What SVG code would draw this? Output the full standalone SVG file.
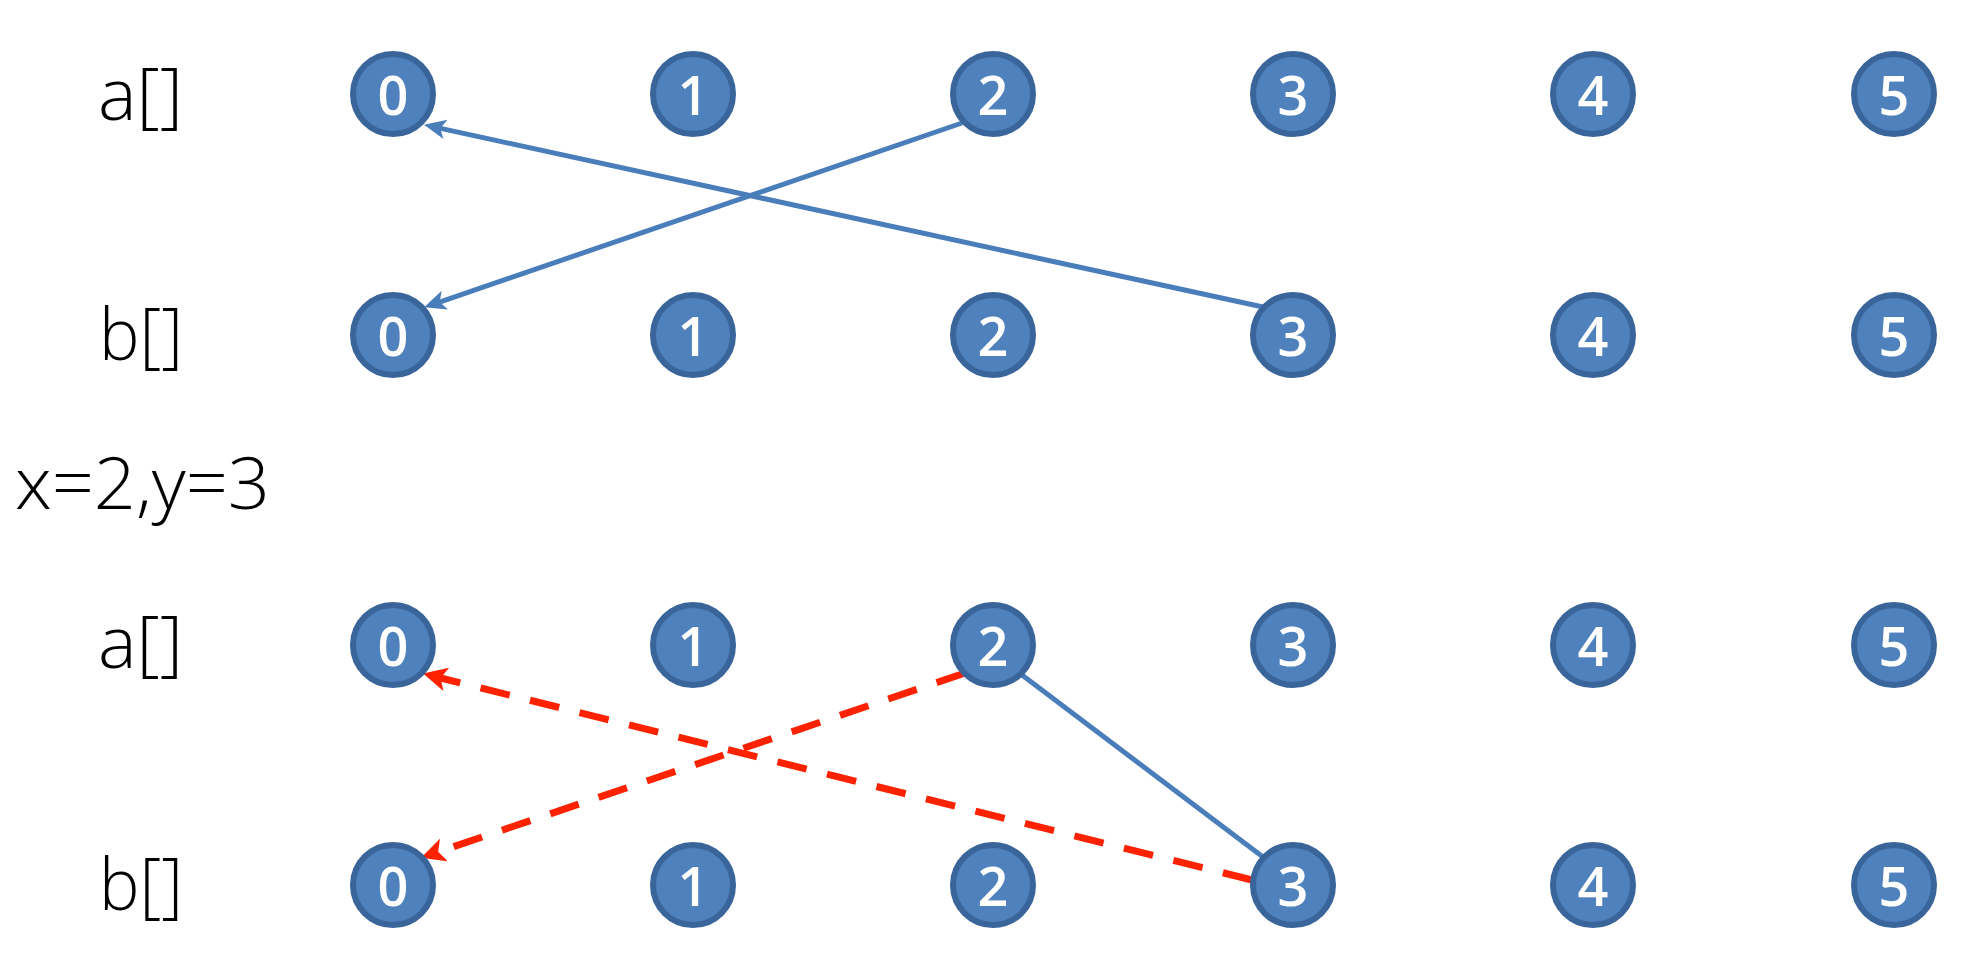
<svg xmlns="http://www.w3.org/2000/svg" width="1967" height="953" viewBox="0 0 1967 953">
<style>
.bg{fill:#ffffff}
.node circle{fill:#4F81BD;stroke:#3A659B;stroke-width:6}
.node text{fill:#ffffff;font-family:"Open Sans","Liberation Sans",sans-serif;font-size:54px;font-weight:600;text-anchor:middle}
.lbl{fill:#000000;font-family:"Open Sans","Liberation Sans",sans-serif;font-weight:300;font-size:72px}
.blue{stroke:#4A7EBB;stroke-width:5;fill:none}
.red{stroke:#FF2200;stroke-width:7;fill:none;stroke-dasharray:30 21}
</style>
<defs>
<marker id="ab" viewBox="0 0 20 20" refX="10" refY="10" markerWidth="22" markerHeight="22" markerUnits="userSpaceOnUse" orient="auto">
<path d="M0,1 L20,10 L0,19 L5,10 z" fill="#4A7EBB"/>
</marker>
<marker id="ar" viewBox="0 0 20 20" refX="10" refY="10" markerWidth="24" markerHeight="24" markerUnits="userSpaceOnUse" orient="auto">
<path d="M0,0 L20,10 L0,20 L5,10 z" fill="#FF2200"/>
</marker>
</defs>
<rect class="bg" x="0" y="0" width="1967" height="953"/>
<g id="labels">
<text class="lbl" x="98" y="120" textLength="85" lengthAdjust="spacingAndGlyphs">a[]</text>
<text class="lbl" x="99" y="360" textLength="84" lengthAdjust="spacingAndGlyphs">b[]</text>
<text class="lbl" x="15" y="509" font-size="62" textLength="255" lengthAdjust="spacingAndGlyphs">x=2,y=3</text>
<text class="lbl" x="98" y="668" textLength="85" lengthAdjust="spacingAndGlyphs">a[]</text>
<text class="lbl" x="99" y="910" textLength="84" lengthAdjust="spacingAndGlyphs">b[]</text>
</g>
<g id="connectors">
<line class="blue" x1="962" y1="123" x2="434.5" y2="303.8" marker-end="url(#ab)"/>
<line class="blue" x1="1263" y1="307" x2="434.8" y2="127.1" marker-end="url(#ab)"/>
<line class="red" x1="965" y1="673" x2="432.5" y2="853.8" marker-end="url(#ar)"/>
<line class="red" x1="1252" y1="880" x2="434.7" y2="676.5" marker-end="url(#ar)"/>
<line class="blue" x1="1022" y1="675" x2="1263" y2="857"/>
</g>
<g id="row-a1">
<g class="node" id="a1-0"><circle cx="393" cy="94" r="40"/><text x="393" y="115">0</text></g>
<g class="node" id="a1-1"><circle cx="693" cy="94" r="40"/><text x="693" y="115">1</text></g>
<g class="node" id="a1-2"><circle cx="993" cy="94" r="40"/><text x="993" y="115">2</text></g>
<g class="node" id="a1-3"><circle cx="1293" cy="94" r="40"/><text x="1293" y="115">3</text></g>
<g class="node" id="a1-4"><circle cx="1593" cy="94" r="40"/><text x="1593" y="115">4</text></g>
<g class="node" id="a1-5"><circle cx="1894" cy="94" r="40"/><text x="1894" y="115">5</text></g>
</g>
<g id="row-b1">
<g class="node" id="b1-0"><circle cx="393" cy="335" r="40"/><text x="393" y="356">0</text></g>
<g class="node" id="b1-1"><circle cx="693" cy="335" r="40"/><text x="693" y="356">1</text></g>
<g class="node" id="b1-2"><circle cx="993" cy="335" r="40"/><text x="993" y="356">2</text></g>
<g class="node" id="b1-3"><circle cx="1293" cy="335" r="40"/><text x="1293" y="356">3</text></g>
<g class="node" id="b1-4"><circle cx="1593" cy="335" r="40"/><text x="1593" y="356">4</text></g>
<g class="node" id="b1-5"><circle cx="1894" cy="335" r="40"/><text x="1894" y="356">5</text></g>
</g>
<g id="row-a2">
<g class="node" id="a2-0"><circle cx="393" cy="645" r="40"/><text x="393" y="666">0</text></g>
<g class="node" id="a2-1"><circle cx="693" cy="645" r="40"/><text x="693" y="666">1</text></g>
<g class="node" id="a2-2"><circle cx="993" cy="645" r="40"/><text x="993" y="666">2</text></g>
<g class="node" id="a2-3"><circle cx="1293" cy="645" r="40"/><text x="1293" y="666">3</text></g>
<g class="node" id="a2-4"><circle cx="1593" cy="645" r="40"/><text x="1593" y="666">4</text></g>
<g class="node" id="a2-5"><circle cx="1894" cy="645" r="40"/><text x="1894" y="666">5</text></g>
</g>
<g id="row-b2">
<g class="node" id="b2-0"><circle cx="393" cy="885" r="40"/><text x="393" y="906">0</text></g>
<g class="node" id="b2-1"><circle cx="693" cy="885" r="40"/><text x="693" y="906">1</text></g>
<g class="node" id="b2-2"><circle cx="993" cy="885" r="40"/><text x="993" y="906">2</text></g>
<g class="node" id="b2-3"><circle cx="1293" cy="885" r="40"/><text x="1293" y="906">3</text></g>
<g class="node" id="b2-4"><circle cx="1593" cy="885" r="40"/><text x="1593" y="906">4</text></g>
<g class="node" id="b2-5"><circle cx="1894" cy="885" r="40"/><text x="1894" y="906">5</text></g>
</g>
</svg>
